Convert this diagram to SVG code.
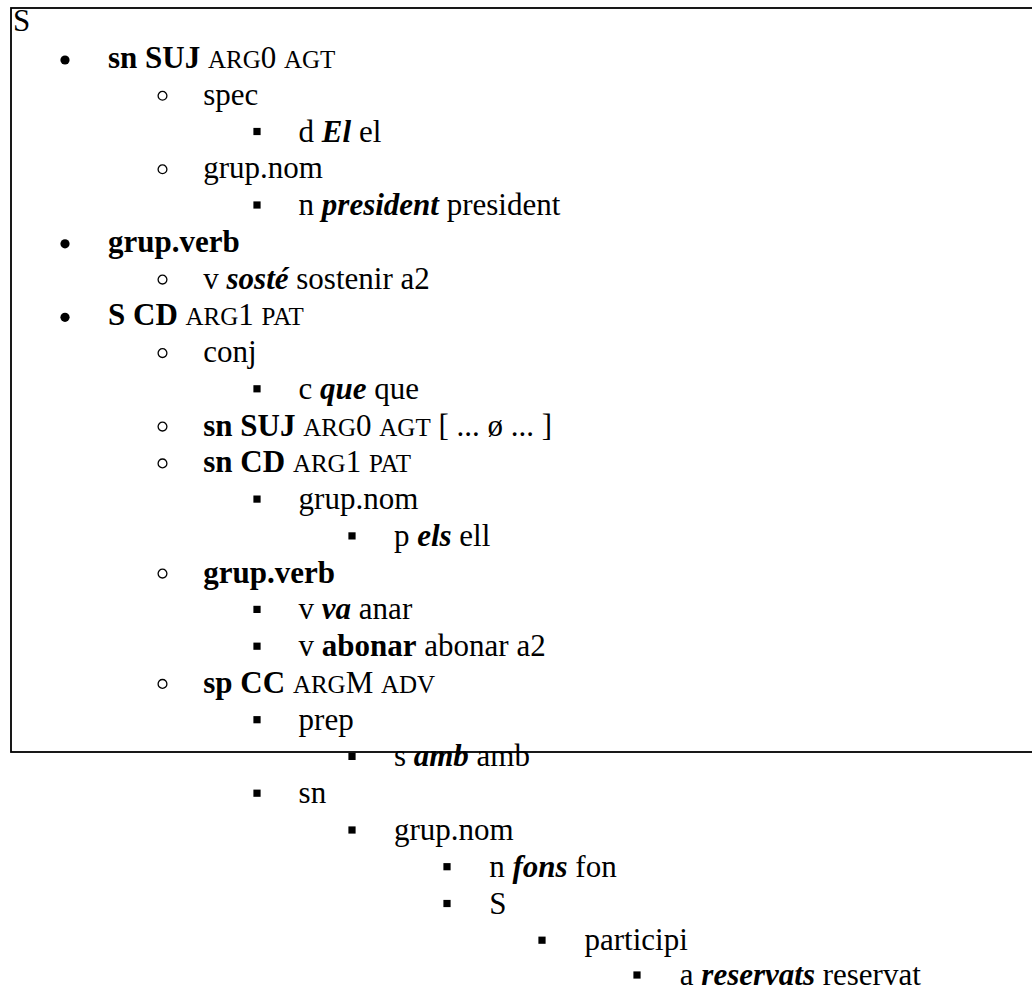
<svg xmlns="http://www.w3.org/2000/svg" width="1032" height="990" viewBox="0 0 1032 990">
<style>
text { font-family: "Liberation Serif", "Times New Roman", serif; font-size: 31px; fill: #000; }
.b { font-weight: bold; }
.bi { font-weight: bold; font-style: italic; }
.sc { font-size: 25px; }
.disc { fill: #000; }
.circ { fill: none; stroke: #000; stroke-width: 1.3; }
.sq { fill: #000; }
.frame { fill: none; stroke: #000; stroke-width: 1.8; }
</style>
<defs>
<circle id="d1" class="disc" cx="0" cy="0" r="4.6"/>
<circle id="d2" class="circ" cx="0" cy="0" r="4.4"/>
<rect id="d3" class="sq" x="-3.6" y="-3.6" width="7.2" height="7.2"/>
</defs>
<rect class="frame" x="11" y="8" width="1040" height="744"/>
<g id="root"><text x="13" y="31">S</text></g>

<g id="n0"><use href="#d1" x="65" y="60"/><text x="108" y="68"><tspan class="b">sn SUJ</tspan> <tspan class="sc">ARG</tspan>0 <tspan class="sc">AGT</tspan></text></g>
<g id="n1"><use href="#d2" x="162.5" y="95.8"/><text x="203.3" y="104.8">spec</text></g>
<g id="n2"><use href="#d3" x="257" y="131.5"/><text x="298.6" y="141.5">d <tspan class="bi">El</tspan> el</text></g>
<g id="n3"><use href="#d2" x="162.5" y="169.3"/><text x="203.3" y="178.3">grup.nom</text></g>
<g id="n4"><use href="#d3" x="257" y="205"/><text x="298.6" y="215">n <tspan class="bi">president</tspan> president</text></g>
<g id="n5"><use href="#d1" x="65" y="243.8"/><text x="108" y="251.8" class="b">grup.verb</text></g>
<g id="n6"><use href="#d2" x="162.5" y="279.6"/><text x="203.3" y="288.6">v <tspan class="bi">sosté</tspan> sostenir a2</text></g>
<g id="n7"><use href="#d1" x="65" y="317.3"/><text x="108" y="325.3"><tspan class="b">S CD</tspan> <tspan class="sc">ARG</tspan>1 <tspan class="sc">PAT</tspan></text></g>
<g id="n8"><use href="#d2" x="162.5" y="353.1"/><text x="203.3" y="362.1">conj</text></g>
<g id="n9"><use href="#d3" x="257" y="388.8"/><text x="298.6" y="398.8">c <tspan class="bi">que</tspan> que</text></g>
<g id="n10"><use href="#d2" x="162.5" y="426.6"/><text x="203.3" y="435.6"><tspan class="b">sn SUJ</tspan> <tspan class="sc">ARG</tspan>0 <tspan class="sc">AGT</tspan> [ ... ø ... ]</text></g>
<g id="n11"><use href="#d2" x="162.5" y="463.4"/><text x="203.3" y="472.4"><tspan class="b">sn CD</tspan> <tspan class="sc">ARG</tspan>1 <tspan class="sc">PAT</tspan></text></g>
<g id="n12"><use href="#d3" x="257" y="499.1"/><text x="298.6" y="509.1">grup.nom</text></g>
<g id="n13"><use href="#d3" x="352" y="535.9"/><text x="393.9" y="545.9">p <tspan class="bi">els</tspan> ell</text></g>
<g id="n14"><use href="#d2" x="162.5" y="573.6"/><text x="203.3" y="582.6" class="b">grup.verb</text></g>
<g id="n15"><use href="#d3" x="257" y="609.4"/><text x="298.6" y="619.4">v <tspan class="bi">va</tspan> anar</text></g>
<g id="n16"><use href="#d3" x="257" y="646.2"/><text x="298.6" y="656.2">v <tspan class="b">abonar</tspan> abonar a2</text></g>
<g id="n17"><use href="#d2" x="162.5" y="683.9"/><text x="203.3" y="692.9"><tspan class="b">sp CC</tspan> <tspan class="sc">ARG</tspan>M <tspan class="sc">ADV</tspan></text></g>
<g id="n18"><use href="#d3" x="257" y="719.7"/><text x="298.6" y="729.7">prep</text></g>
<g id="n19"><use href="#d3" x="352" y="756.4"/><text x="393.9" y="766.4">s <tspan class="bi">amb</tspan> amb</text></g>
<g id="n20"><use href="#d3" x="257" y="793.2"/><text x="298.6" y="803.2">sn</text></g>
<g id="n21"><use href="#d3" x="352" y="830"/><text x="393.9" y="840">grup.nom</text></g>
<g id="n22"><use href="#d3" x="447" y="866.7"/><text x="489.2" y="876.7">n <tspan class="bi">fons</tspan> fon</text></g>
<g id="n23"><use href="#d3" x="447" y="903.5"/><text x="489.2" y="913.5">S</text></g>
<g id="n24"><use href="#d3" x="542" y="940.2"/><text x="584.5" y="950.2">participi</text></g>
<g id="n25"><use href="#d3" x="637" y="975"/><text x="679.8" y="985">a <tspan class="bi">reservats</tspan> reservat</text></g>
</svg>
